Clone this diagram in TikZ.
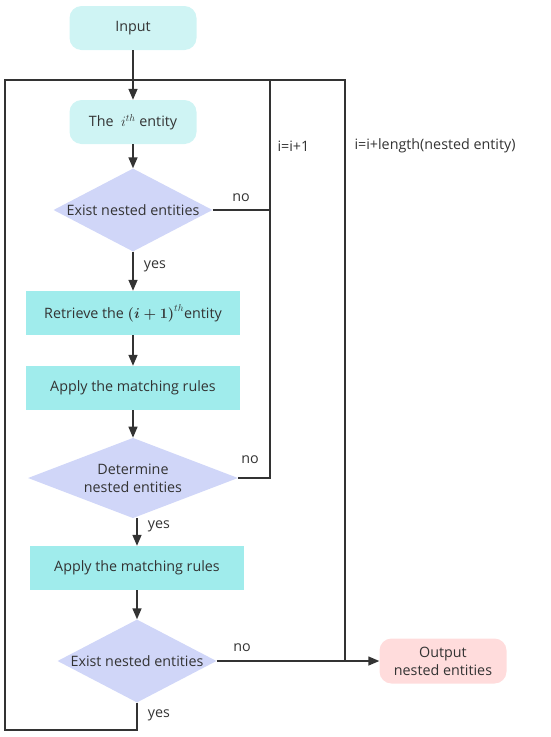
\documentclass[tikz,border=0pt]{standalone}
\usepackage{fontspec}
\setmainfont{Open Sans}
\usepackage{amsmath, amssymb}
\usetikzlibrary{shapes.geometric,arrows.meta}
\definecolor{startcyan}{HTML}{CFF4F4}
\definecolor{stepcyan}{HTML}{A0ECEC}
\definecolor{decblue}{HTML}{D0D6F8}
\definecolor{endpink}{HTML}{FFDCDC}
\definecolor{linegray}{HTML}{333333}
\definecolor{txtgray}{HTML}{333333}

\begin{document}
\begin{tikzpicture}[%
x=1pt, y=-1pt,
font=\fontsize{14.3}{18}\selectfont,
text=txtgray,
line/.style={draw=linegray, line width=1.4pt},
arrow/.style={line, -{Triangle[length=11pt,width=9pt]}},
startbox/.style={fill=startcyan, rounded corners=12pt, minimum width=127pt, minimum height=44pt},
stepbox/.style={fill=stepcyan, minimum width=214pt, minimum height=44pt},
decision/.style={diamond, fill=decblue, aspect=1.9, inner sep=0pt, align=center},
endbox/.style={fill=endpink, rounded corners=12pt, minimum width=127pt, minimum height=45pt, align=center},
]
\useasboundingbox (0,0) rectangle (550,737);
%% boxes;
\node [startbox] (input) at (133,28) {Input};
\node [startbox] (ent) at (133,122) {The \ $i^{th}$ entity};
\node [decision, minimum width=159pt, minimum height=83pt] (exist1) at (133,210) {Exist nested entities};
\node [stepbox] (retr) at (133,313) {Retrieve the $\boldsymbol{(i+1)}^{th}$entity};
\node [stepbox] (rule1) at (133,388) {Apply the matching rules};
\node [decision, minimum width=210pt, minimum height=75pt] (det) at (133,478) {Determine\\nested entities};
\node [stepbox] (rule2) at (137,568) {Apply the matching rules};
\node [decision, minimum width=159pt, minimum height=83pt] (exist2) at (137,661) {Exist nested entities};
\node [endbox] (out) at (443,661) {Output\\nested entities};
%% loop corners;
\coordinate (tl) at (5,80);
\coordinate (itop) at (270,80);
\coordinate (otop) at (345,80);
\coordinate (bl) at (5,730);
%% arrows;
\draw [arrow] (input) -- (ent);
\draw [arrow] (ent) -- (exist1);
\draw [arrow] (exist1) -- (retr);
\draw [arrow] (retr) -- (rule1);
\draw [arrow] (rule1) -- (det);
\draw [arrow] (rule2.north |- det.south) -- (rule2);
\draw [arrow] (rule2) -- (exist2);
\draw [arrow] (exist2) -- (out);
%% loops;
\draw [line] (exist1.east) -- (exist1.east -| itop);
\draw [line] (det.east) -- (det.east -| itop) -- (itop);
\draw [line] (exist2.south) -- (exist2.south |- bl) -- (bl) -- (tl) -- (otop) -- (otop |- exist2.east);
%% labels;
\node (no1) at (241,198) {no};
\node (no2) at (250,460) {no};
\node (no3) at (242,648) {no};
\node (yes1) at (155,266) {yes};
\node (yes2) at (159,526) {yes};
\node (yes3) at (159,715) {yes};
\node [anchor=west] (inc1) at (274,146) {i=i+1};
\node [anchor=west] (inc2) at (351,146) {i=i+length(nested entity)};
\end{tikzpicture}
\end{document}
